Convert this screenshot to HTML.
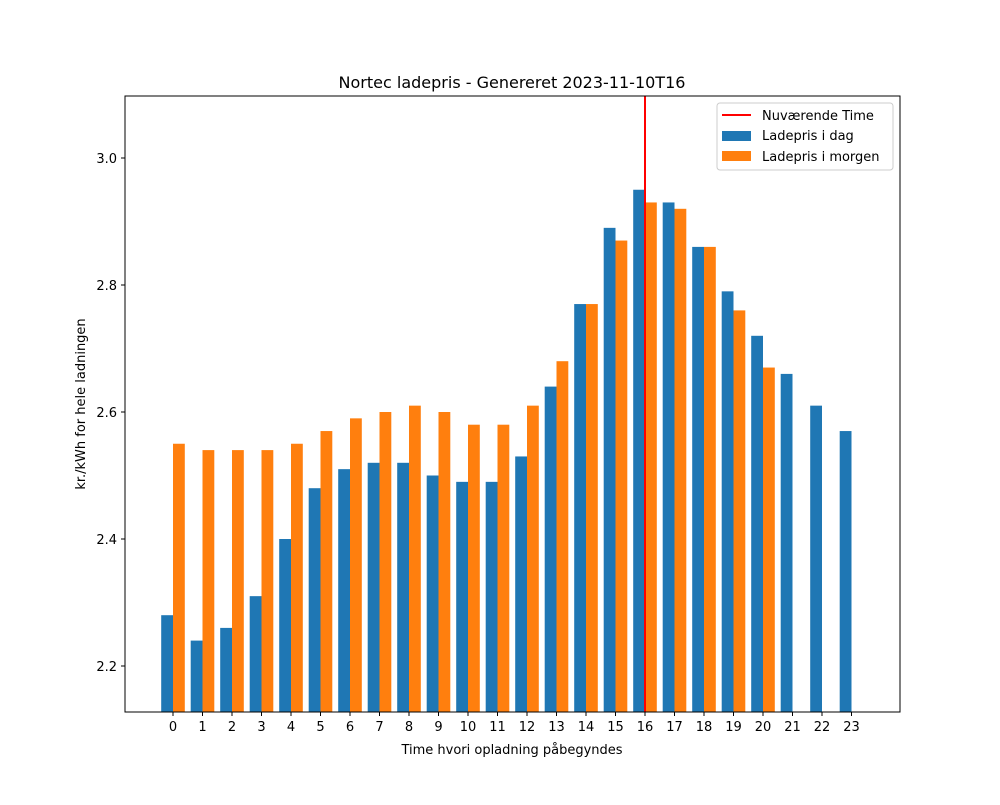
<!DOCTYPE html>
<html><head><meta charset="utf-8"><style>
body{margin:0;background:#fff;}
svg{font-family:"DejaVu Sans","Liberation Sans",sans-serif;}
</style></head><body>
<svg id="chart" width="1000" height="800" xmlns="http://www.w3.org/2000/svg">
<rect width="1000" height="800" fill="#fff"/>
<g id="bars"></g>
<g id="ticks"></g>
<rect x="125" y="96" width="775" height="616" fill="none" stroke="#000" stroke-width="1"/>
<text x="512" y="88" text-anchor="middle" font-size="16">Nortec ladepris - Genereret 2023-11-10T16</text>
<text x="512" y="754" text-anchor="middle" font-size="13">Time hvori opladning påbegyndes</text>
<text transform="translate(85,404) rotate(-90)" text-anchor="middle" font-size="13">kr./kWh for hele ladningen</text>
<g>
<rect x="717" y="103" width="176" height="67" rx="3" fill="#fff" fill-opacity="0.8" stroke="#ccc"/>
<line x1="722" y1="115" x2="751" y2="115" stroke="red" stroke-width="2"/>
<text x="762" y="120" font-size="13">Nuværende Time</text>
<rect x="722" y="131" width="29" height="10" fill="#1f77b4"/>
<text x="762" y="140" font-size="13">Ladepris i dag</text>
<rect x="722" y="151" width="29" height="10" fill="#ff7f0e"/>
<text x="762" y="161" font-size="13">Ladepris i morgen</text>
</g>
</svg>
<script>
const hours=[0,1,2,3,4,5,6,7,8,9,10,11,12,13,14,15,16,17,18,19,20,21,22,23];
const today=[2.28,2.24,2.26,2.31,2.40,2.48,2.51,2.52,2.52,2.50,2.49,2.49,2.53,2.64,2.77,2.89,2.95,2.93,2.86,2.79,2.72,2.66,2.61,2.57];
const tomorrow=[2.55,2.54,2.54,2.54,2.55,2.57,2.59,2.60,2.61,2.60,2.58,2.58,2.61,2.68,2.77,2.87,2.93,2.92,2.86,2.76,2.67];
const yTicks=[2.2,2.4,2.6,2.8,3.0];
const currentHour=16;
const NS="http://www.w3.org/2000/svg";
const step=29.5;
const x=h=>173+h*step;
const y=v=>666+(v-2.2)*(158-666)/0.8;
const bw=0.4*step;
const bars=document.getElementById('bars'),ticks=document.getElementById('ticks');
function mk(t,a,p){const e=document.createElementNS(NS,t);for(const k in a)e.setAttribute(k,a[k]);p.appendChild(e);return e;}
today.forEach((v,i)=>{const r=mk('rect',{x:x(hours[i])-bw,y:y(v),width:bw,height:712-y(v),fill:'#1f77b4'},bars);

});
tomorrow.forEach((v,i)=>{const r=mk('rect',{x:x(hours[i]),y:y(v),width:bw,height:712-y(v),fill:'#ff7f0e'},bars);

});
const ln=mk('line',{x1:x(currentHour),x2:x(currentHour),y1:96,y2:712,stroke:'red','stroke-width':2},bars);


hours.forEach(h=>{mk('line',{x1:x(h),x2:x(h),y1:712,y2:716,stroke:'#000'},ticks);
const t=mk('text',{x:x(h),y:731,'text-anchor':'middle','font-size':13},ticks);t.textContent=h;

});
yTicks.forEach(v=>{mk('line',{x1:121,x2:125,y1:y(v),y2:y(v),stroke:'#000'},ticks);
const t=mk('text',{x:117,y:y(v)+5,'text-anchor':'end','font-size':13},ticks);t.textContent=v.toFixed(1);

});
</script>
</body></html>
